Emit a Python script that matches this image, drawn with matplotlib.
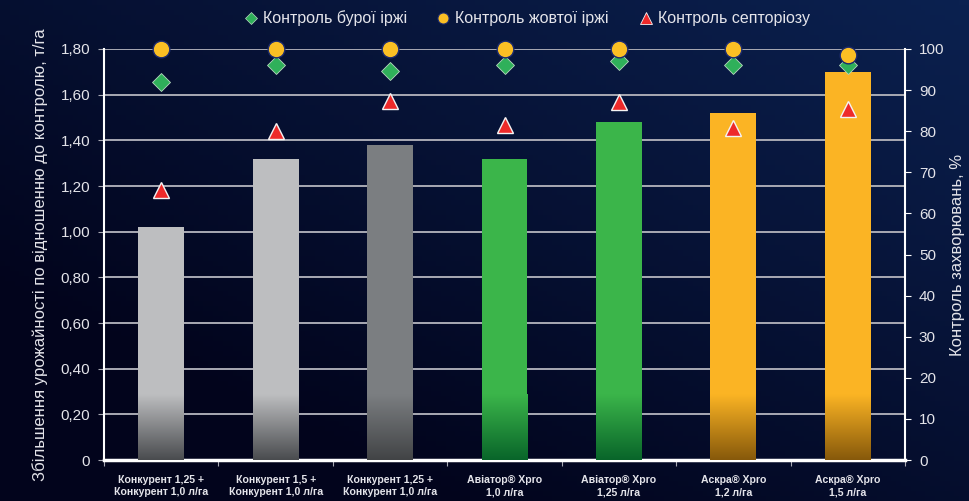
import numpy as np
import matplotlib.pyplot as plt
from matplotlib.colors import LinearSegmentedColormap
from matplotlib.lines import Line2D

plt.rcParams['font.family'] = ['Liberation Sans', 'DejaVu Sans']

categories = [
    "Конкурент 1,25 +\nКонкурент 1,0 л/га",
    "Конкурент 1,5 +\nКонкурент 1,0 л/га",
    "Конкурент 1,25 +\nКонкурент 1,0 л/га",
    "Авіатор® Xpro\n1,0 л/га",
    "Авіатор® Xpro\n1,25 л/га",
    "Аскра® Xpro\n1,2 л/га",
    "Аскра® Xpro\n1,5 л/га",
]
yield_gain = [1.02, 1.32, 1.38, 1.32, 1.48, 1.52, 1.70]
brown_rust = [92.0, 96.0, 94.6, 96.1, 97.1, 96.0, 96.1]
yellow_rust = [100, 100, 100, 100, 100, 100, 98.5]
septoria = [65.7, 80.0, 87.3, 81.5, 87.1, 80.8, 85.4]

bar_top = ['#bdbec0', '#bdbec0', '#7b7e81', '#3bb54a', '#3bb54a', '#fbb424', '#fbb424']
bar_bottom = ['#4a4c4f', '#4a4c4f', '#424446', '#09652a', '#09652a', '#87590b', '#87590b']

txt = '#e4e4ea'
grid_c = '#a9aab4'

fig = plt.figure(figsize=(9.69, 5.01), dpi=100)

# background gradient
bg = fig.add_axes([0, 0, 1, 1], zorder=-10)
gx, gy = np.meshgrid(np.linspace(0, 1, 200), np.linspace(0, 1, 100))
g = np.clip(0.55 * gx + 0.6 * (1 - gy) - 0.25, 0, 1)
bg_cmap = LinearSegmentedColormap.from_list('bg', ['#02041c', '#0b2150'])
bg.imshow(g, cmap=bg_cmap, aspect='auto', extent=[0, 1, 0, 1], origin='upper')
bg.axis('off')

ax = fig.add_axes([0.1073, 0.0818, 0.8267, 0.8204])
ax.set_facecolor('none')
x = np.arange(len(categories))
w = 0.4
ax.bar(x, yield_gain, width=w, color=bar_top, zorder=2)

# dark gradient at the bottom of the bars
grad_h = 0.285
grad = np.linspace(0, 1, 100).reshape(-1, 1)
for xi, top, bot in zip(x, bar_top, bar_bottom):
    cm = LinearSegmentedColormap.from_list('b', [bot, top])
    ax.imshow(grad, cmap=cm, aspect='auto', origin='lower',
              extent=[xi - w / 2, xi + w / 2, 0, grad_h], zorder=3)

ax.set_xlim(-0.5, len(categories) - 0.5)
ax.set_ylim(0, 1.8)
ax.set_yticks(np.arange(0, 1.81, 0.2))
ax.set_yticklabels(['0'] + [f'{v:.2f}'.replace('.', ',') for v in np.arange(0.2, 1.81, 0.2)])
ax.yaxis.grid(True, color=grid_c, linewidth=1.4, zorder=1)
ax.set_axisbelow(True)

ax.set_xticks(np.arange(-0.5, len(categories), 1.0))
ax.set_xticklabels([])
ax.set_xticks(x, minor=True)
ax.set_xticklabels(categories, minor=True, fontsize=7.6, fontweight='bold', color=txt,
                   linespacing=1.25)
ax.tick_params(axis='x', which='minor', length=0, pad=11)
ax.tick_params(axis='x', which='major', length=4, color=grid_c, direction='out')
ax.tick_params(axis='y', length=4, color=grid_c, labelsize=11, labelcolor=txt, pad=6)

for s in ['top', 'right']:
    ax.spines[s].set_visible(False)
ax.spines['left'].set_color('white')
ax.spines['left'].set_linewidth(1.5)
ax.spines['bottom'].set_color('white')
ax.spines['bottom'].set_linewidth(2.5)
ax.set_ylabel('Збільшення урожайності по відношенню до контролю, т/га',
              fontsize=12, color=txt, labelpad=9)

ax2 = ax.twinx()
ax2.set_ylim(0, 100)
ax2.set_yticks(np.arange(0, 101, 10))
ax2.tick_params(axis='y', length=4, color='white', labelsize=11, labelcolor=txt, pad=6)
for s in ['top', 'left', 'bottom']:
    ax2.spines[s].set_visible(False)
ax2.spines['right'].set_color('white')
ax2.spines['right'].set_linewidth(1.5)
ax2.set_ylabel('Контроль захворювань, %', fontsize=12, color=txt, labelpad=4)

ax2.plot(x, septoria, ls='none', marker='^', markersize=12, color='#ee2a2a',
         markeredgecolor='#f4f4f4', markeredgewidth=1.0, zorder=5, clip_on=False)
ax2.plot(x, brown_rust, ls='none', marker='D', markersize=9, color='#2fb05a',
         markeredgecolor='#b8d8c0', markeredgewidth=0.6, zorder=5, clip_on=False)
ax2.plot(x, yellow_rust, ls='none', marker='o', markersize=12, color='#fbbf24',
         markeredgecolor='#1c2a6e', markeredgewidth=1.0, zorder=6, clip_on=False)

handles = [
    Line2D([], [], ls='none', marker='D', markersize=6, color='#2fb05a',
           markeredgecolor='#b8d8c0', markeredgewidth=0.5),
    Line2D([], [], ls='none', marker='o', markersize=8, color='#fbbf24',
           markeredgecolor='#1c2a6e', markeredgewidth=0.8),
    Line2D([], [], ls='none', marker='^', markersize=8, color='#ee2a2a',
           markeredgecolor='#f4f4f4', markeredgewidth=0.6),
]
leg = fig.legend(handles, ['Контроль бурої іржі', 'Контроль жовтої іржі', 'Контроль септоріозу'],
                 loc='center', bbox_to_anchor=(0.543, 0.963), ncol=3, frameon=False,
                 fontsize=11.5, handletextpad=0.25, columnspacing=1.8, handlelength=1.0)
for t in leg.get_texts():
    t.set_color(txt)

fig.savefig('out.png', dpi=100, facecolor='#02041c')
